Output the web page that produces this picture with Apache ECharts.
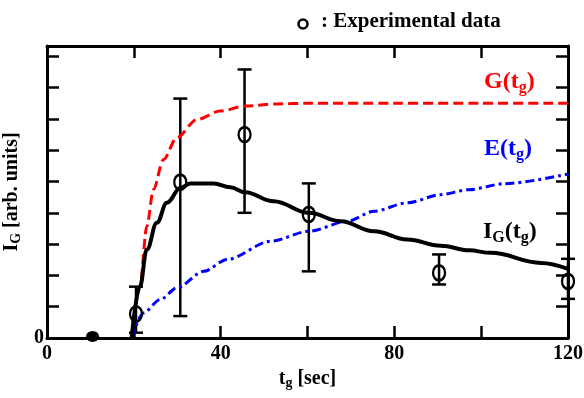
<!DOCTYPE html>
<html>
<head>
<meta charset="utf-8">
<script src="https://cdn.jsdelivr.net/npm/echarts@6/dist/echarts.min.js"></script>
<style>
html, body { margin: 0; padding: 0; background: #fff; }
#chart { width: 584px; height: 398px; }
</style>
</head>
<body>
<div id="chart"></div>
<script>
// experimental points (t_g in sec, I_G in arb. units)
var expT = [20.5, 30.7, 45.5, 60.3, 90.3, 120];
var expY = [0.77, 4.98, 6.5, 3.95, 2.08, 1.81];
var errLow = [0.17, 0.70, 4.0, 2.13, 1.71, 1.25];
var errHigh = [1.64, 7.65, 8.58, 4.94, 2.67, 2.53];
// the filled point near t=10
var baseT = [10.5];
var baseY = [0.05];

// model curves
var gT = [19.5, 21.4, 23, 24.5, 26.8, 29.9, 34.5, 39.9, 45.6, 53, 60, 80, 100, 120];
var gY = [0, 1.65, 3.57, 4.74, 5.7, 6.4, 6.98, 7.25, 7.41, 7.48, 7.5, 7.5, 7.5, 7.5];
var eT = [19.5, 22.2, 26.1, 29.9, 36.1, 41.5, 51.5, 60.3, 69.2, 75.3, 83, 90.7, 97.2, 105.3, 120];
var eY = [0, 0.8, 1.23, 1.6, 2.13, 2.51, 3.09, 3.41, 3.73, 4.05, 4.32, 4.58, 4.74, 4.93, 5.24];
var iT = [19.5, 21.4, 23, 25.3, 27.6, 30.8, 33, 38.4, 42.2, 45.6, 52.2, 60.3, 67.6, 75.3, 83, 90.7, 97.2, 102.2, 113.8, 120];
var iY = [0, 1.65, 2.83, 3.68, 4.32, 4.8, 4.94, 4.94, 4.82, 4.66, 4.37, 4.0, 3.73, 3.41, 3.15, 2.95, 2.8, 2.72, 2.4, 2.21];

var xTickLabels = [0, 40, 80, 120];

function pairs(xs, ys) {
    return xs.map(function (x, i) { return [x, ys[i]]; });
}

var serif = '"Liberation Serif", "DejaVu Serif", serif';
var chart = echarts.init(document.getElementById('chart'));

var axisLine = { show: true, onZero: false, lineStyle: { color: '#000', width: 3 } };
var axisTick = { show: true, inside: true, length: 12, lineStyle: { color: '#000', width: 2.5 } };

function errorBar(params, api) {
    var x = api.value(0);
    var lo = api.coord([x, api.value(1)]);
    var hi = api.coord([x, api.value(2)]);
    var w = 7;
    var st = { stroke: '#000', lineWidth: 2.5 };
    return {
        type: 'group',
        children: [
            { type: 'line', shape: { x1: lo[0], y1: lo[1], x2: hi[0], y2: hi[1] }, style: st },
            { type: 'line', shape: { x1: lo[0] - w, y1: lo[1], x2: lo[0] + w, y2: lo[1] }, style: st },
            { type: 'line', shape: { x1: hi[0] - w, y1: hi[1], x2: hi[0] + w, y2: hi[1] }, style: st }
        ]
    };
}

var sub = { fontSize: 14, fontWeight: 'bold', fontFamily: serif, padding: [9, 0, 0, 0] };

// label with subscripts, for graphic text (uses fill)
function label(text, col) {
    return {
        text: text,
        rich: {
            a: { fontSize: 24, fontWeight: 'bold', fontFamily: serif, fill: col },
            s: { fontSize: 16, fontWeight: 'bold', fontFamily: serif, fill: col, padding: [12, 0, 0, 0] }
        }
    };
}

var option = {
    animation: false,
    grid: { left: 47, right: 16, top: 46, bottom: 60, containLabel: false, outerBoundsMode: 'none' },
    xAxis: [{
        type: 'value', min: 0, max: 120, interval: 20,
        axisLine: axisLine, axisTick: axisTick, splitLine: { show: false },
        axisLabel: {
            color: '#000', fontSize: 20, fontWeight: 'bold', fontFamily: serif, margin: 6,
            formatter: function (v) { return xTickLabels.indexOf(v) >= 0 ? String(v) : ''; }
        },
        name: '{a|t}{s|g}{a| [sec]}', nameLocation: 'middle', nameGap: 28,
        nameTextStyle: {
            rich: {
                a: { fontSize: 20, fontWeight: 'bold', fontFamily: serif, color: '#000' },
                s: sub
            }
        }
    }, {
        type: 'value', position: 'top', min: 0, max: 120, interval: 20,
        axisLine: axisLine, axisTick: axisTick, splitLine: { show: false },
        axisLabel: { show: false }
    }],
    yAxis: [{
        type: 'value', min: 0, max: 9.33, interval: 1,
        axisLine: axisLine, axisTick: axisTick, splitLine: { show: false },
        axisLabel: {
            color: '#000', fontSize: 20, fontWeight: 'bold', fontFamily: serif, margin: 3,
            formatter: function (v) { return v === 0 ? '0' : ''; }
        },
        name: '{a|I}{s|G}{a| [arb. units]}', nameLocation: 'middle', nameGap: 16,
        nameTextStyle: {
            rich: {
                a: { fontSize: 20, fontWeight: 'bold', fontFamily: serif, color: '#000' },
                s: sub
            }
        }
    }, {
        type: 'value', position: 'right', min: 0, max: 9.33, interval: 1,
        axisLine: axisLine, axisTick: axisTick, splitLine: { show: false },
        axisLabel: { show: false }
    }],
    graphic: [
        { type: 'circle', shape: { cx: 303, cy: 24, r: 4.5 }, style: { fill: 'none', stroke: '#000', lineWidth: 2.5 } },
        { type: 'text', left: 321, top: 11, style: { text: ': Experimental data', font: 'bold 21px ' + serif, fill: '#000' } },
        { type: 'text', left: 484, top: 70, style: label('{a|G(t}{s|g}{a|)}', '#f00') },
        { type: 'text', left: 484, top: 137, style: label('{a|E(t}{s|g}{a|)}', '#00f') },
        { type: 'text', left: 483, top: 220, style: label('{a|I}{s|G}{a|(t}{s|g}{a|)}', '#000') }
    ],
    series: [{
        name: 'G', type: 'line', data: pairs(gT, gY), showSymbol: false,
        smooth: 0.3, smoothMonotone: 'x',
        lineStyle: { color: '#f00', width: 3, type: [10, 5] }
    }, {
        name: 'E', type: 'line', data: pairs(eT, eY), showSymbol: false,
        smooth: 0.3, smoothMonotone: 'x',
        lineStyle: { color: '#00f', width: 3, type: [9, 4, 3, 4] }
    }, {
        name: 'I_G', type: 'line', data: pairs(iT, iY), showSymbol: false,
        smooth: 0.4, smoothMonotone: 'x',
        lineStyle: { color: '#000', width: 4 }
    }, {
        name: 'err', type: 'custom', renderItem: errorBar,
        data: expT.map(function (t, i) { return [t, errLow[i], errHigh[i]]; }),
        z: 3
    }, {
        name: 'exp', type: 'scatter', data: pairs(expT, expY),
        symbol: 'circle', symbolSize: [12, 15],
        itemStyle: { color: 'rgba(255,255,255,0)', borderColor: '#000', borderWidth: 2.5, opacity: 1 }, z: 4
    }, {
        name: 'base', type: 'scatter', data: pairs(baseT, baseY),
        symbol: 'circle', symbolSize: [13, 11],
        itemStyle: { color: '#000', opacity: 1 }, z: 4
    }]
};

chart.setOption(option);
</script>
</body>
</html>
